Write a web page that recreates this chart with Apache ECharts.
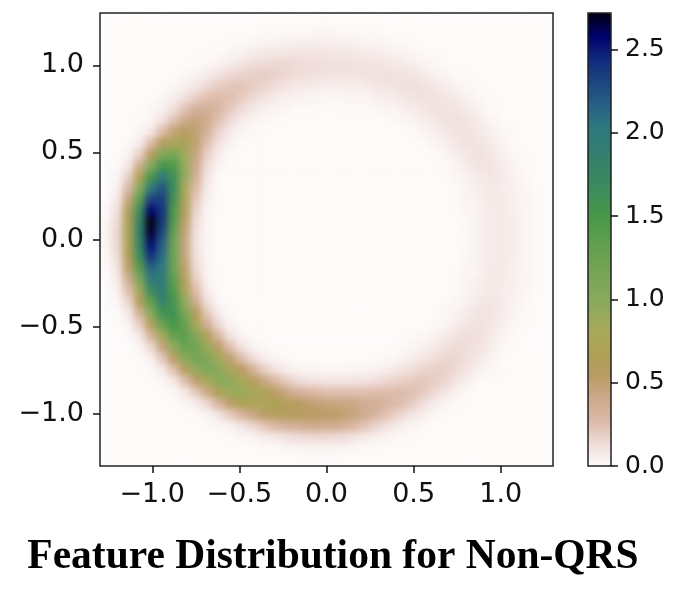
<!DOCTYPE html>
<html>
<head>
<meta charset="utf-8">
<title>Feature Distribution for Non-QRS</title>
<script src="https://cdn.jsdelivr.net/npm/echarts@6/dist/echarts.min.js"></script>
<style>
  html, body { margin: 0; background: #fff; }
  #chart { width: 685px; height: 604px; }
  /* density cells live on zlevel 0, soften them like the upscaled original */
  canvas[data-zr-dom-id="zr_0"] { filter: blur(3.5px); }
</style>
</head>
<body>
<div id="chart"></div>
<script>
// cell centres, left to right / top to bottom
const xCenters = [-1.2675,-1.2025,-1.1375,-1.0725,-1.0075,-.9425,-.8775,-.8125,-.7475,-.6825,-.6175,-.5525,-.4875,-.4225,-.3575,-.2925,-.2275,-.1625,-.0975,-.0325,.0325,.0975,.1625,.2275,.2925,.3575,.4225,.4875,.5525,.6175,.6825,.7475,.8125,.8775,.9425,1.0075,1.0725,1.1375,1.2025,1.2675]
const yCenters = xCenters.slice().reverse()

// density, one row per yCenters entry
const density = [
[0,0,0,0,0,0,0,0,0,0,0,0,0,0,0,0,0,0,0,0, 0,0,0,0,0,0,0,0,0,0,0,0,0,0,0,0,0,0,0,0],
[0,0,0,0,0,0,0,0,0,0,0,0,0,0,.01,.01,.01,.01,.01,.02, .02,.01,.01,.01,.01,0,0,0,0,0,0,0,0,0,0,0,0,0,0,0],
[0,0,0,0,0,0,0,0,0,0,0,.01,.01,.02,.03,.03,.04,.05,.05,.05, .05,.04,.04,.03,.03,.02,.01,.01,0,0,0,0,0,0,0,0,0,0,0,0],
[0,0,0,0,0,0,0,0,0,.01,.01,.02,.04,.06,.08,.09,.09,.10,.10,.10, .09,.09,.08,.07,.06,.05,.04,.02,.01,.01,0,0,0,0,0,0,0,0,0,0],
[0,0,0,0,0,0,0,0,.01,.02,.04,.07,.10,.13,.14,.15,.15,.14,.13,.13, .12,.12,.11,.11,.10,.09,.08,.06,.04,.02,.01,0,0,0,0,0,0,0,0,0],
[0,0,0,0,0,0,0,.02,.04,.07,.11,.15,.17,.19,.19,.17,.15,.14,.12,.11, .10,.10,.10,.11,.11,.12,.11,.10,.08,.05,.03,.01,.01,0,0,0,0,0,0,0],
[0,0,0,0,0,0,.02,.05,.09,.15,.20,.22,.23,.19,.17,.13,.10,.08,.07,.06, .06,.06,.06,.07,.09,.10,.11,.12,.11,.09,.06,.04,.02,.01,0,0,0,0,0,0],
[0,0,0,0,0,.02,.06,.12,.19,.25,.27,.25,.20,.15,.10,.07,.05,.04,.03,.02, .02,.02,.03,.03,.05,.06,.08,.10,.11,.11,.09,.07,.04,.02,.01,0,0,0,0,0],
[0,0,0,0,.02,.05,.12,.24,.34,.35,.29,.21,.14,.08,.05,.03,.02,.01,.01,.01, 0,.01,.01,.01,.02,.03,.04,.06,.09,.11,.11,.10,.07,.04,.01,0,0,0,0,0],
[0,0,0,.01,.03,.11,.24,.39,.45,.38,.24,.14,.07,.03,.02,.01,0,0,0,0, 0,0,0,0,0,.01,.02,.03,.06,.08,.11,.11,.10,.06,.03,.01,0,0,0,0],
[0,0,0,.02,.09,.26,.47,.60,.49,.34,.17,.07,.03,.01,0,0,0,0,0,0, 0,0,0,0,0,0,0,.01,.03,.05,.08,.11,.11,.08,.05,.02,.01,0,0,0],
[0,0,.01,.07,.26,.56,.76,.72,.48,.25,.11,.04,.01,0,0,0,0,0,0,0, 0,0,0,0,0,0,0,0,.01,.03,.05,.09,.11,.10,.07,.04,.01,0,0,0],
[0,0,.04,.18,.57,1.04,1.15,.87,.44,.18,.06,.01,0,0,0,0,0,0,0,0, 0,0,0,0,0,0,0,0,0,.01,.03,.06,.09,.11,.09,.05,.02,.01,0,0],
[0,.01,.09,.38,1.02,1.53,1.46,.91,.41,.13,.03,.01,0,0,0,0,0,0,0,0, 0,0,0,0,0,0,0,0,0,0,.01,.04,.07,.10,.10,.07,.03,.01,0,0],
[0,.03,.18,.67,1.51,2.0,1.61,.92,.35,.09,.01,0,0,0,0,0,0,0,0,0, 0,0,0,0,0,0,0,0,0,0,.01,.02,.05,.08,.09,.07,.04,.02,0,0],
[0,.05,.29,1.0,1.97,2.23,1.64,.82,.27,.06,.01,0,0,0,0,0,0,0,0,0, 0,0,0,0,0,0,0,0,0,0,0,.01,.04,.06,.08,.07,.05,.02,.01,0],
[0,.08,.44,1.35,2.33,2.35,1.57,.71,.21,.05,0,0,0,0,0,0,0,0,0,0, 0,0,0,0,0,0,0,0,0,0,0,.01,.03,.05,.08,.08,.05,.03,.01,0],
[.01,.12,.59,1.63,2.57,2.39,1.46,.59,.16,.03,0,0,0,0,0,0,0,0,0,0, 0,0,0,0,0,0,0,0,0,0,0,.01,.02,.04,.07,.08,.05,.03,.01,0],
[.03,.14,.68,1.82,2.72,2.37,1.39,.52,.13,.02,0,0,0,0,0,0,0,0,0,0, 0,0,0,0,0,0,0,0,0,0,0,0,.02,.04,.07,.08,.06,.03,.01,0],
[.03,.16,.72,1.85,2.67,2.28,1.29,.47,.11,.02,0,0,0,0,0,0,0,0,0,0, 0,0,0,0,0,0,0,0,0,0,0,0,.02,.04,.07,.08,.06,.03,.01,0],
[.03,.15,.69,1.76,2.54,2.17,1.22,.45,.10,.02,0,0,0,0,0,0,0,0,0,0, 0,0,0,0,0,0,0,0,0,0,0,0,.02,.04,.07,.08,.06,.03,.01,0],
[.02,.12,.60,1.62,2.40,2.11,1.23,.46,.12,.02,0,0,0,0,0,0,0,0,0,0, 0,0,0,0,0,0,0,0,0,0,0,0,.02,.04,.07,.08,.06,.03,.01,0],
[.01,.10,.51,1.39,2.17,2.02,1.23,.50,.14,.03,0,0,0,0,0,0,0,0,0,0, 0,0,0,0,0,0,0,0,0,0,0,.01,.02,.04,.07,.08,.05,.03,.01,0],
[0,.07,.37,1.14,1.98,2.01,1.35,.61,.18,.04,0,0,0,0,0,0,0,0,0,0, 0,0,0,0,0,0,0,0,0,0,0,.01,.03,.05,.08,.08,.05,.03,.01,0],
[0,.04,.25,.85,1.70,1.94,1.44,.74,.26,.06,.01,0,0,0,0,0,0,0,0,0, 0,0,0,0,0,0,0,0,0,0,0,.01,.04,.06,.08,.07,.05,.02,.01,0],
[0,.02,.16,.59,1.35,1.82,1.55,.93,.38,.12,.02,0,0,0,0,0,0,0,0,0, 0,0,0,0,0,0,0,0,0,0,.01,.02,.05,.08,.09,.07,.04,.02,0,0],
[0,.01,.08,.36,.99,1.58,1.59,1.12,.56,.21,.06,.01,0,0,0,0,0,0,0,0, 0,0,0,0,0,0,0,0,0,0,.02,.04,.07,.10,.10,.07,.03,.01,0,0],
[0,0,.04,.19,.63,1.23,1.53,1.28,.78,.36,.14,.04,.01,0,0,0,0,0,0,0, 0,0,0,0,0,0,0,0,0,.01,.03,.06,.10,.11,.09,.06,.02,.01,0,0],
[0,0,.01,.08,.34,.84,1.31,1.35,1.03,.61,.28,.11,.03,.01,0,0,0,0,0,0, 0,0,0,0,0,0,0,.01,.02,.04,.07,.11,.13,.12,.08,.04,.01,0,0,0],
[0,0,0,.03,.15,.46,.93,1.27,1.20,.88,.52,.25,.11,.04,.01,0,0,0,0,0, 0,0,0,0,0,0,.01,.02,.04,.08,.11,.14,.13,.10,.06,.02,.01,0,0,0],
[0,0,0,.01,.05,.21,.54,.96,1.19,1.08,.80,.50,.26,.14,.06,.03,.01,0,0,0, 0,0,0,0,.01,.02,.03,.06,.09,.13,.16,.16,.12,.08,.04,.01,0,0,0,0],
[0,0,0,0,.02,.08,.25,.56,.92,1.09,1.0,.78,.54,.34,.19,.11,.06,.04,.03,.02, .02,.02,.03,.03,.04,.06,.09,.12,.16,.18,.18,.14,.09,.05,.02,.01,0,0,0,0],
[0,0,0,0,0,.02,.08,.25,.52,.81,.99,.96,.81,.61,.43,.29,.20,.14,.11,.10, .09,.09,.10,.11,.13,.16,.18,.20,.22,.20,.16,.10,.05,.01,0,0,0,0,0,0],
[0,0,0,0,0,0,.02,.08,.21,.43,.68,.88,.90,.80,.67,.53,.42,.34,.29,.26, .25,.25,.25,.25,.26,.26,.27,.25,.21,.15,.09,.04,.01,0,0,0,0,0,0,0],
[0,0,0,0,0,0,0,.02,.06,.16,.32,.52,.67,.75,.75,.68,.61,.55,.50,.47, .45,.43,.42,.37,.35,.31,.26,.20,.13,.07,.03,.01,0,0,0,0,0,0,0,0],
[0,0,0,0,0,0,0,0,.01,.04,.10,.20,.32,.44,.53,.58,.59,.58,.56,.55, .53,.49,.45,.37,.31,.23,.16,.10,.06,.02,.01,0,0,0,0,0,0,0,0,0],
[0,0,0,0,0,0,0,0,0,.01,.02,.04,.09,.15,.22,.28,.33,.36,.38,.38, .37,.34,.28,.22,.16,.10,.06,.03,.01,0,0,0,0,0,0,0,0,0,0,0],
[0,0,0,0,0,0,0,0,0,0,0,.01,.02,.03,.06,.08,.11,.13,.14,.15, .14,.13,.10,.07,.05,.03,.01,.01,0,0,0,0,0,0,0,0,0,0,0,0],
[0,0,0,0,0,0,0,0,0,0,0,0,0,0,.01,.01,.02,.03,.03,.03, .03,.03,.02,.01,.01,0,0,0,0,0,0,0,0,0,0,0,0,0,0,0],
[0,0,0,0,0,0,0,0,0,0,0,0,0,0,0,0,0,0,.01,.01, .01,0,0,0,0,0,0,0,0,0,0,0,0,0,0,0,0,0,0,0]
]

const plotTicks = [-1, -0.5, 0, 0.5, 1]
const barTicks = [0, 0.5, 1, 1.5, 2, 2.5]
const barMax = 2.72
const earthColors = ['#fdfbfa','#efdcd8','#dcb9a8','#cba98a','#b99b62','#aea155','#a8a95a','#8faa5c','#7ea75a','#6ea352','#5c9e4e','#489748','#3e8e58','#388464','#327d72','#2e7880','#265f84','#1c4480','#10287c','#00006e','#000010']

const cells = []
density.forEach((row, r) => row.forEach((v, c) => cells.push([c, r, v])))

const fmt = v => v.toFixed(1).replace('-', '\u2212')
const hidden = { show: false }

function valueAxis(position, gridIndex, min, max, ticks, fontSize, margin) {
    return {
        type: 'value', gridIndex, position, min, max, zlevel: 1, z: 6,
        splitLine: hidden,
        axisLine: { show: false, onZero: false },
        axisTick: { show: true, length: 7, customValues: ticks, lineStyle: { color: '#111', width: 1.5 } },
        axisLabel: {
            customValues: ticks, formatter: fmt, margin,
            fontFamily: 'DejaVu Sans', fontSize, color: '#111'
        }
    }
}

const chart = echarts.init(document.getElementById('chart'))
chart.setOption({
    animation: false,
    title: {
        text: 'Feature Distribution for Non-QRS',
        left: 328, top: 531, textAlign: 'center', zlevel: 1,
        textStyle: { fontFamily: 'Liberation Serif', fontWeight: 'bold', fontSize: 41.5, color: '#000' }
    },
    grid: [
        { left: 100, top: 13, width: 453, height: 453, show: true, backgroundColor: 'transparent', borderColor: '#222', borderWidth: 1.5, zlevel: 1, z: 5 },
        { left: 588, top: 13, width: 23, height: 453, show: true, backgroundColor: 'transparent', borderColor: '#222', borderWidth: 1.5, zlevel: 1, z: 5 }
    ],
    xAxis: [
        { type: 'category', gridIndex: 0, data: xCenters, show: false },
        valueAxis('bottom', 0, -1.3, 1.3, plotTicks, 27, 15),
        { type: 'value', gridIndex: 1, min: 0, max: 1, show: false }
    ],
    yAxis: [
        { type: 'category', gridIndex: 0, data: yCenters, inverse: true, show: false },
        valueAxis('left', 0, -1.3, 1.3, plotTicks, 27, 16),
        valueAxis('right', 1, 0, barMax, barTicks, 25, 14)
    ],
    visualMap: {
        type: 'continuous', seriesIndex: 0, min: 0, max: barMax,
        left: 588, top: 13, itemWidth: 23, itemHeight: 453,
        calculable: false, realtime: false, text: null, padding: 0,
        inRange: { color: earthColors }, zlevel: 1, z: 4, hoverLink: false
    },
    series: [{
        type: 'heatmap', xAxisIndex: 0, yAxisIndex: 0, data: cells,
        progressive: 0, zlevel: 0, emphasis: { disabled: true }
    }]
})
</script>
</body>
</html>
